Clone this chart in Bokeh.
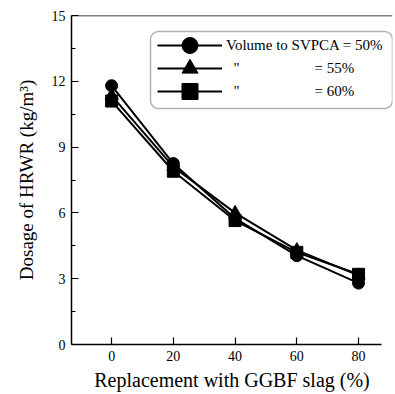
from bokeh.plotting import figure
from bokeh.models import Range1d, FixedTicker, Legend, LegendItem, Span, BoxAnnotation
from bokeh.embed import file_html
from bokeh.resources import INLINE

replacement = [0, 20, 40, 60, 80]
hrwr_50 = [11.8, 8.25, 5.75, 4.05, 2.8]
hrwr_55 = [11.35, 8.1, 6.0, 4.3, 3.15]
hrwr_60 = [11.1, 7.9, 5.65, 4.2, 3.2]
x_ticks = [0, 20, 40, 60, 80]
y_ticks = [0, 3, 6, 9, 12, 15]
y_minor = [1.5, 4.5, 7.5, 10.5, 13.5]
NB = "\u00a0"
series_labels = [
    "Volume to SVPCA = 50%",
    NB * 2 + "\"" + NB * 20 + "= 55%",
    NB * 2 + "\"" + NB * 20 + "= 60%",
]

FONT = "Liberation Serif"

p = figure(width=395, height=394, x_range=Range1d(-13, 91), y_range=Range1d(0, 15),
           output_backend="svg", toolbar_location=None,
           min_border_left=71, min_border_right=3, min_border_top=15, min_border_bottom=50)
p.xgrid.visible = False
p.ygrid.visible = False
p.outline_line_color = None

p.xaxis.ticker = FixedTicker(ticks=x_ticks, minor_ticks=[])
p.yaxis.ticker = FixedTicker(ticks=y_ticks, minor_ticks=y_minor)
p.xaxis.bounds = (-13, 87.5)
for ax in (p.xaxis, p.yaxis):
    ax.axis_line_width = 1.5
    ax.axis_line_color = "black"
    ax.major_tick_in = 7
    ax.major_tick_out = 0
    ax.minor_tick_in = 4
    ax.minor_tick_out = 0
    ax.major_tick_line_width = 1.2
    ax.minor_tick_line_width = 1.2
    ax.major_label_text_font = FONT
    ax.major_label_text_font_size = "14px"
    ax.major_label_text_color = "black"
    ax.axis_label_text_font = FONT
    ax.axis_label_text_font_style = "normal"
    ax.axis_label_text_color = "black"
p.xaxis.axis_label_text_font_size = "20px"
p.yaxis.axis_label_text_font_size = "19px"
p.xaxis.axis_label = "Replacement with GGBF slag (%)"
p.yaxis.axis_label = "Dosage of HRWR (kg/m\u00b3)"
p.xaxis.major_label_standoff = 6
p.yaxis.major_label_standoff = 6
p.xaxis.axis_label_standoff = 5
p.yaxis.axis_label_standoff = 12

p.add_layout(Span(location=15, dimension="width", line_color="black", line_width=1.5))

# rounded frame of the legend (canvas pixels)
p.add_layout(BoxAnnotation(left=150, right=392, top=31, bottom=108,
                           left_units="canvas", right_units="canvas",
                           top_units="canvas", bottom_units="canvas",
                           fill_color="white", fill_alpha=1.0,
                           line_color="black", line_width=1.5, border_radius=8))

legend_y = [279, 256, 233]  # bottom of each one-row legend, px above the frame bottom
for ys, marker, size, lab, ly in [(hrwr_50, "circle", 12, series_labels[0], legend_y[0]),
                                  (hrwr_55, "triangle", 13, series_labels[1], legend_y[1]),
                                  (hrwr_60, "square", 12, series_labels[2], legend_y[2])]:
    ln = p.line(replacement, ys, line_color="black", line_width=2)
    sc = p.scatter(replacement, ys, marker=marker, size=size, fill_color="black", line_color="black")
    lg = Legend(items=[LegendItem(label=lab, renderers=[ln, sc])], location=(86, ly),
                glyph_width=65, glyph_height=40, label_height=20, spacing=0, padding=0,
                margin=0, label_standoff=4, label_text_font=FONT, label_text_font_size="15px",
                label_text_color="black", border_line_color=None, background_fill_color=None)
    p.add_layout(lg, "center")

open("out.html", "w").write(file_html(p, INLINE))
